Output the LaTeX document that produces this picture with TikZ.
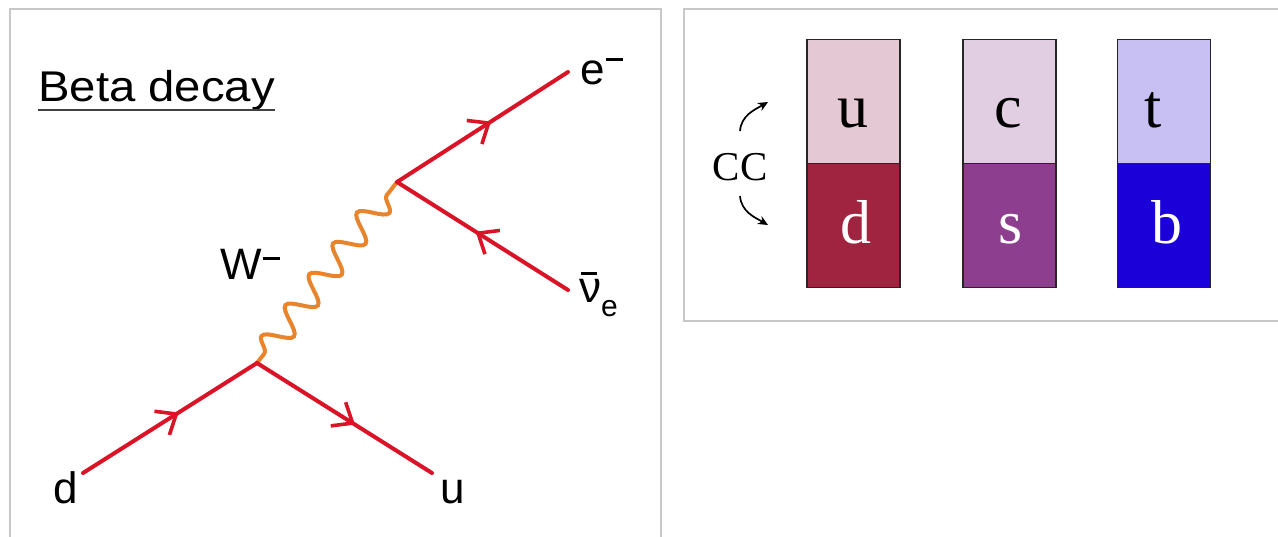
\documentclass[tikz,border=0pt]{standalone}
\usepackage{fontspec}
\setmainfont{Liberation Serif}
\newfontfamily\arialf{Liberation Sans}
\usetikzlibrary{arrows.meta,decorations.pathmorphing,decorations.markings}
\definecolor{fred}{RGB}{218,20,38}
\definecolor{worange}{RGB}{232,132,44}
\definecolor{framegray}{RGB}{200,200,200}
\definecolor{ucol}{RGB}{228,200,212}
\definecolor{dcol}{RGB}{160,36,64}
\definecolor{ccol}{RGB}{226,206,226}
\definecolor{scol}{RGB}{142,62,142}
\definecolor{tcol}{RGB}{200,192,242}
\definecolor{bcol}{RGB}{28,0,216}
\tikzset{
  fermion/.style={draw=fred, line width=4pt, line cap=round,
    decoration={markings, mark=at position #1 with {\arrow{Straight Barb[length=17pt,width=28pt,line width=3.6pt]}}},
    postaction={decorate}},
  boson/.style={draw=worange, line width=4pt,
    decorate, decoration={snake, segment length=39pt, amplitude=13pt, pre length=12pt, post length=12pt}},
  lab/.style={font=\arialf\fontsize{44}{44}\selectfont, inner sep=0pt},
  frame/.style={draw=framegray, line width=2pt},
  qbox/.style={draw=black!85, line width=1.8pt, minimum width=93pt, minimum height=124pt, inner sep=0pt, outer sep=0pt},
  qlet/.style={font=\fontsize{62}{62}\selectfont, inner sep=0pt, anchor=base},
  ccarrow/.style={draw=black, line width=1.7pt, -{Stealth[length=10pt,width=9pt]}},
}
\newcommand{\minussup}[1]{\raisebox{#1}{\rule{17pt}{3pt}}}
\begin{document}
\begin{tikzpicture}[x=1pt,y=-1pt]
\useasboundingbox (0,0) rectangle (1278,536);
% frames
\draw[frame] (10,545) -- (10,9) -- (661,9) -- (661,545);
\draw[frame] (1290,9) -- (684,9) -- (684,321) -- (1290,321);
% title
\node[anchor=base west, inner sep=0pt, font=\arialf\fontsize{43}{43}\selectfont] (title) at (38,101)
  {\scalebox{1.1}[1]{Beta decay}};
\coordinate (ul1) at ([yshift=-9pt]title.base west);
\coordinate (ul2) at ([yshift=-9pt]title.base east);
\draw[line width=2pt, black!75] (ul1) -- (ul2);
% Feynman diagram vertices and ends
\coordinate (v1) at (257,363);
\coordinate (v2) at (397,182);
\coordinate (dend) at (83,473);
\coordinate (uend) at (432,473);
\coordinate (eend) at (568,72);
\coordinate (nend) at (568,290);
\draw[boson] (v1) -- (v2);
\draw[fermion=0.55] (dend) -- (v1);
\draw[fermion=0.56] (v1) -- (uend);
\draw[fermion=0.55] (v2) -- (eend);
\draw[fermion=0.54] (nend) -- (v2);
% labels
\node[lab, anchor=base] (dlab) at (66,503) {d};
\node[lab, anchor=base] (ulab) at (453,503) {u};
\node[lab, anchor=base west] (elab) at (580,84) {e\hspace{1pt}\minussup{23pt}};
\node[lab, anchor=base west] (wlab) at (220,279) {W\hspace{1pt}\minussup{19pt}};
\node[lab, anchor=base west] (nlab) at (579,302) {\rlap{\hspace{0.04em}\raisebox{0.62em}{\rule{0.36em}{0.07em}}}ν\raisebox{-0.33em}{\fontsize{30}{30}\selectfont e}};
% quark boxes
\node[qbox, fill=ucol] (ubox) at (853.5,101.5) {};
\node[qbox, fill=dcol, anchor=north] (dbox) at (ubox.south) {};
\node[qbox, fill=ccol] (cbox) at (1009.5,101.5) {};
\node[qbox, fill=scol, anchor=north] (sbox) at (cbox.south) {};
\node[qbox, fill=tcol] (tbox) at (1164,101.5) {};
\node[qbox, fill=bcol, anchor=north] (bbox) at (tbox.south) {};
\node[qlet] (ul) at (853,127) {u};
\node[qlet, text=white] (dl) at (856,243) {d};
\node[qlet] (cl) at (1008,127) {c};
\node[qlet, text=white] (sl) at (1011,243) {s};
\node[qlet] (tl) at (1153,127) {t};
\node[qlet, text=white] (bl) at (1167,243) {b};
% CC
\node[inner sep=0pt, anchor=base, font=\fontsize{41}{41}\selectfont] (cc) at (740,180) {CC};
\coordinate (a1s) at (740,131);
\coordinate (a1e) at (768,102);
\coordinate (a2s) at (740,196);
\coordinate (a2e) at (768,225);
\draw[ccarrow] (a1s) to[out=85,in=210] (a1e);
\draw[ccarrow] (a2s) to[out=-85,in=150] (a2e);
\end{tikzpicture}
\end{document}
